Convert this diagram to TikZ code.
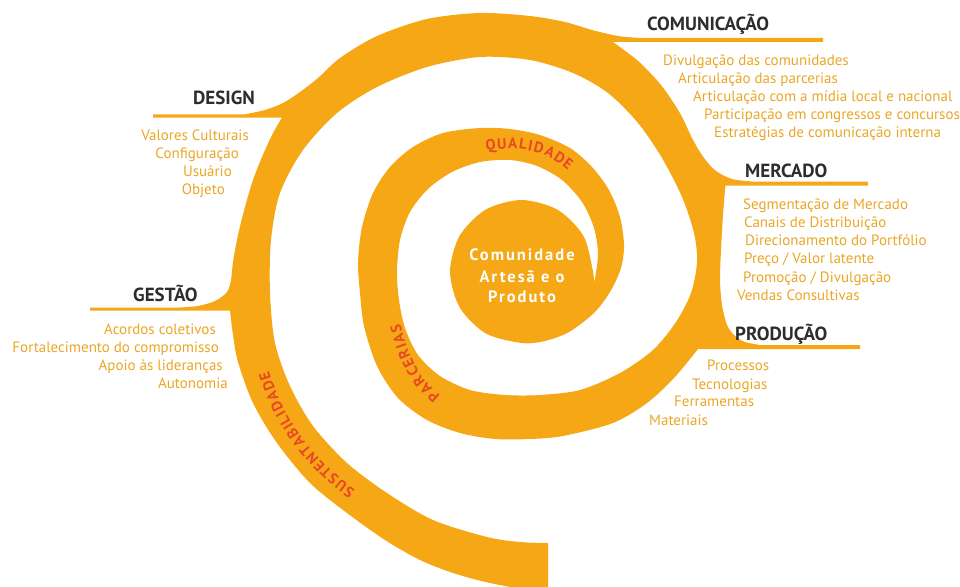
\documentclass[tikz,border=0pt]{standalone}
\usepackage{fontspec}
\setmainfont{PT Sans}
\newfontfamily\spacedsans[LetterSpace=12]{PT Sans}
\newfontfamily\labelsans{PT Sans}
\usetikzlibrary{decorations.text}
\definecolor{bandc}{RGB}{246,167,22}
\definecolor{itemc}{RGB}{234,166,38}
\definecolor{catc}{RGB}{45,45,45}
\definecolor{redc}{RGB}{232,72,36}
\newcommand{\redlabelfont}{\labelsans\bfseries\fontsize{15}{18}\selectfont\fontdimen2\font=1.3pt\relax}
\begin{document}
\begin{tikzpicture}[x=1pt,y=-1pt,
  cat/.style={font=\bfseries\fontsize{19}{22}\selectfont, text=catc, inner sep=0pt, anchor=base west},
  itemw/.style={font=\fontsize{15}{18}\selectfont, text=itemc, inner sep=0pt, anchor=base west},
  iteme/.style={font=\fontsize{15}{18}\selectfont, text=itemc, inner sep=0pt, anchor=base east},
  ctext/.style={font=\spacedsans\bfseries\fontsize{16.5}{19}\selectfont, text=white, inner sep=0pt, anchor=base},
  arclabel/.style={decorate, decoration={text along path, text align=center, text color=redc,
     text={|\redlabelfont|#1}}},
  sm/.style={smooth, tension=0.5}]
\useasboundingbox (0,0) rectangle (960,586);
\clip (0,0) rectangle (960,586);
% the spiral band with its branches
\fill[bandc]
  plot[sm] coordinates {(594,284) (593,271.5) (583.4,235.8) (557.3,209.6) (521.5,200) (485.75,209.6)
     (459.6,235.8) (450,271.5) (459.6,307.3) (485.75,333.4) (521.5,343) (545,341) (569,332) (594,313)
     (610,292) (621,268) (624,245) (620,217) (609,190) (592,167) (570,148) (540,135) (510,129)
     (480,128) (443,133) (413,147) (390,167) (373,193) (362,227) (358,262) (360,293) (364,326)
     (377,366) (398,398) (427,420) (460,433) (495,439) (530,439) (563,436) (613,423) (647,403)
     (674,378) (698,349)}
  -- (860,349) -- (860,345) -- (760,345)
  -- plot[sm] coordinates {(760,345) (745,342) (735,336) (727,325) (722,305) (720,280) (721,250)
     (723,215) (725,190) (725.5,185.5)}
  -- (868,185.5) -- (868,181.5) -- (752,181.5)
  -- plot[sm] coordinates {(752,181.5) (732,179) (716,171) (704,158) (693,140) (681,115) (667,93)
     (655,78) (637,60) (613,42)}
  -- (823,42) -- (823,38) -- (640,38)
  -- plot[sm] coordinates {(640,38) (618,36) (592,30) (565,22) (530,16) (480,13) (427,19) (377,36)
     (340,58) (318,78) (300,92) (283,103) (265,110) (245,114.3)}
  -- (153,114.3) -- (153,117.5) -- (282,117.5)
  -- plot[sm] coordinates {(282,117.5) (272,135) (262,157) (253,180) (245,207) (238,235) (233,262)
     (231,280) (227,292) (215,301) (198,306) (180,307.5)}
  -- (90,307.5) -- (90,310.5) -- (230,310.5)
  -- plot[sm] coordinates {(230,310.5) (233,335) (238,362) (253,403) (277,443) (310,483) (347,513)
     (385,540) (420,560) (453,573) (490,583) (548,594)}
  -- (548,543)
  -- plot[sm] coordinates {(548,543) (520,542) (487,537) (433,520) (387,493) (347,463) (313,426)
     (290,386) (275,343) (270,293) (271,240) (280,193) (303,150) (337,113) (377,87) (427,67)
     (480,57) (530,60) (573,73) (608,93) (638,123) (662,158) (682,197) (694,233) (697,262)
     (691,293) (676,322) (653,350) (620,373) (580,390) (540,395) (505,395) (470,390) (440,376)
     (418,355) (405,328) (399,300) (397,272) (400,240) (410,212) (428,189) (452,172) (480,162)
     (510,160) (537,166) (562,180) (582,202) (594,228) (598,255) (594,284)}
  -- cycle;
% labels along the band
\path[arclabel={Q U A L I D A D E}] plot[sm] coordinates {(440,165) (465,155) (490,150) (518,149) (545,155)
   (568,170) (585,188) (598,208)};
\path[arclabel={P A R C E R I A S}] plot[sm] coordinates {(486,417) (460,407) (438,393) (421,375) (409,352)
   (401,327) (397,300) (397,273)};
\path[arclabel={S U S T E N T A B I L I D A D E}] plot[sm] coordinates {(428,528) (400,515) (370,500) (335,474)
   (305,442) (282,405) (267,365) (260,325) (258,290)};
% centre
\node[ctext] (c1) at (522,260) {Comunidade};
\node[ctext] (c2) at (522,282) {Artesã e o};
\node[ctext] (c3) at (522,302) {Produto};
% COMUNICAÇÃO
\node[cat] (com) at (647,31) {COMUNICAÇÃO};
\node[itemw] (com1) at (663,65) {Divulgação das comunidades};
\node[itemw] (com2) at (678,83) {Articulação das parcerias};
\node[itemw] (com3) at (693,101) {Articulação com a mídia local e nacional};
\node[itemw] (com4) at (704,119) {Participação em congressos e concursos};
\node[itemw] (com5) at (714,137) {Estratégias de comunicação interna};
% MERCADO
\node[cat] (mer) at (745,177) {MERCADO};
\node[itemw] (mer1) at (743,209) {Segmentação de Mercado};
\node[itemw] (mer2) at (744,227) {Canais de Distribuição};
\node[itemw] (mer3) at (745,245) {Direcionamento do Portfólio};
\node[itemw] (mer4) at (744,263) {Preço / Valor latente};
\node[itemw] (mer5) at (743,282) {Promoção / Divulgação};
\node[itemw] (mer6) at (737,300) {Vendas Consultivas};
% PRODUÇÃO
\node[cat] (pro) at (735,340) {PRODUÇÃO};
\node[itemw] (pro1) at (707,370) {Processos};
\node[itemw] (pro2) at (692,389) {Tecnologias};
\node[itemw] (pro3) at (674,406) {Ferramentas};
\node[itemw] (pro4) at (649,425) {Materiais};
% DESIGN
\node[cat] (des) at (193,104) {DESIGN};
\node[iteme] (des1) at (249,140) {Valores Culturais};
\node[iteme] (des2) at (239,158) {Configuração};
\node[iteme] (des3) at (232,176) {Usuário};
\node[iteme] (des4) at (225,194) {Objeto};
% GESTÃO
\node[cat] (ges) at (133,301) {GESTÃO};
\node[iteme] (ges1) at (216,334) {Acordos coletivos};
\node[iteme] (ges2) at (219,352) {Fortalecimento do compromisso};
\node[iteme] (ges3) at (223,370) {Apoio às lideranças};
\node[iteme] (ges4) at (228,388) {Autonomia};
\end{tikzpicture}
\end{document}
